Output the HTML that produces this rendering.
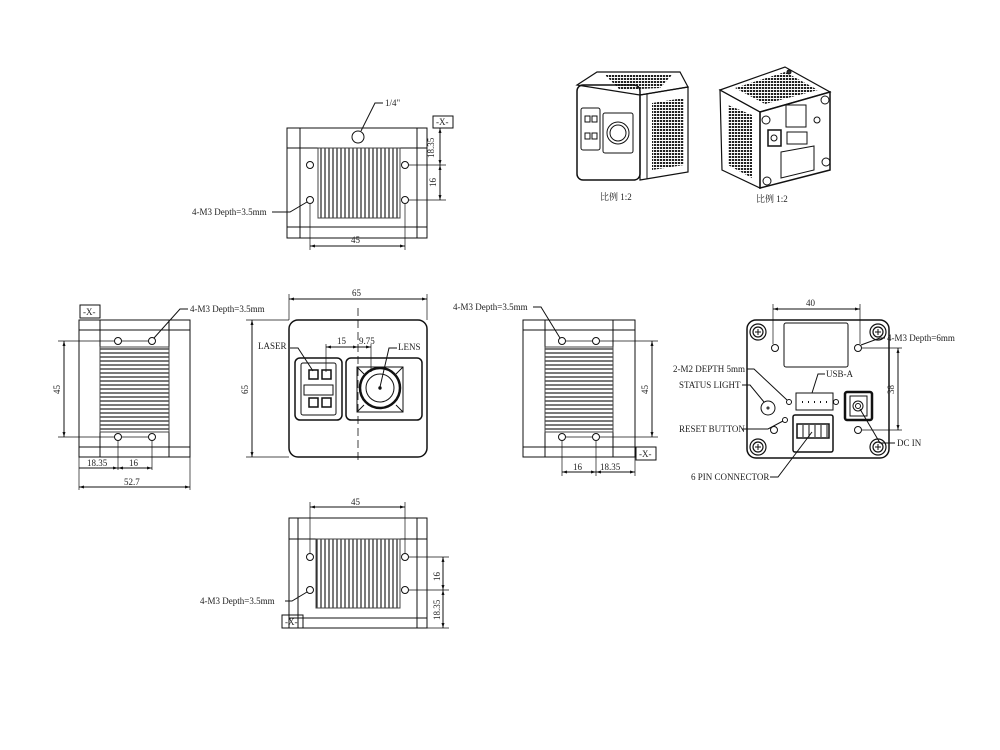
<!DOCTYPE html>
<html><head><meta charset="utf-8"><style>
html,body{margin:0;padding:0;background:#fff;}
svg{display:block;}
text{font-family:"Liberation Serif","Noto Serif CJK SC",serif;font-size:9px;fill:#222;}
</style></head><body>
<svg width="1000" height="750" viewBox="0 0 1000 750" xmlns="http://www.w3.org/2000/svg">
<defs>
<marker id="a" viewBox="0 0 10 10" refX="10" refY="5" markerWidth="7" markerHeight="5" orient="auto-start-reverse"><path d="M0,2 L10,5 L0,8z" fill="#111"/></marker>
<pattern id="vf" width="4" height="4" patternUnits="userSpaceOnUse"><line x1="1" y1="0" x2="1" y2="4" stroke="#222" stroke-width="1.2"/></pattern>
<pattern id="hf" width="4" height="4" patternUnits="userSpaceOnUse"><line x1="0" y1="1" x2="4" y2="1" stroke="#222" stroke-width="1.2"/></pattern>
<pattern id="mesh" width="3" height="3" patternUnits="userSpaceOnUse"><rect width="3" height="3" fill="#fff"/><rect width="2.2" height="2" fill="#222"/></pattern>
</defs>
<g fill="none" stroke="#111" stroke-width="1">

<!-- TOP VIEW -->
<rect x="287" y="128" width="140" height="110"/>
<line x1="300" y1="128" x2="300" y2="238"/><line x1="417" y1="128" x2="417" y2="238"/>
<line x1="287" y1="148" x2="427" y2="148"/><line x1="287" y1="227" x2="427" y2="227"/>
<rect x="318" y="148" width="82" height="70" fill="url(#vf)" stroke="#444"/>
<circle cx="358" cy="137" r="6"/>
<circle cx="310" cy="165" r="3.5"/><circle cx="310" cy="200" r="3.5"/>
<circle cx="405" cy="165" r="3.5"/><circle cx="405" cy="200" r="3.5"/>
<line x1="310" y1="204" x2="310" y2="250" stroke-width="0.7"/><line x1="405" y1="204" x2="405" y2="250" stroke-width="0.7"/>
<line x1="310" y1="246" x2="405" y2="246" marker-start="url(#a)" marker-end="url(#a)"/>
<line x1="409" y1="165" x2="446" y2="165" stroke-width="0.7"/><line x1="409" y1="200" x2="446" y2="200" stroke-width="0.7"/>
<line x1="440" y1="128" x2="440" y2="165" marker-start="url(#a)" marker-end="url(#a)"/>
<line x1="440" y1="165" x2="440" y2="200" marker-start="url(#a)" marker-end="url(#a)"/>
<rect x="433" y="116" width="20" height="12"/>
<polyline points="361,131 375,103 383,103"/>
<polyline points="307,202 290,212 272,212"/>

<!-- FRONT VIEW -->
<line x1="289" y1="320" x2="289" y2="294" stroke-width="0.7"/><line x1="427" y1="320" x2="427" y2="294" stroke-width="0.7"/>
<line x1="289" y1="299" x2="427" y2="299" marker-start="url(#a)" marker-end="url(#a)"/>
<line x1="289" y1="320" x2="246" y2="320" stroke-width="0.7"/><line x1="289" y1="457" x2="246" y2="457" stroke-width="0.7"/>
<line x1="252" y1="320" x2="252" y2="457" marker-start="url(#a)" marker-end="url(#a)"/>
<rect x="289" y="320" width="138" height="137" rx="9" stroke-width="1.5"/>
<rect x="295" y="358" width="47" height="62" rx="5" stroke-width="1.5"/>
<rect x="346" y="358" width="76" height="62" rx="5" stroke-width="1.5"/>
<rect x="301" y="363" width="35" height="52" rx="2"/>
<rect x="304" y="385" width="29" height="10"/>
<rect x="309" y="370" width="9" height="9" stroke-width="1.5"/><rect x="322" y="370" width="9" height="9" stroke-width="1.5"/>
<rect x="309" y="398" width="9" height="9" stroke-width="1.5"/><rect x="322" y="398" width="9" height="9" stroke-width="1.5"/>
<polygon points="357,367 403,367 403,412 357,412"/>
<line x1="357" y1="367" x2="364" y2="374"/><line x1="403" y1="367" x2="396" y2="374"/>
<line x1="357" y1="412" x2="364" y2="405"/><line x1="403" y1="412" x2="396" y2="405"/>
<circle cx="380" cy="388" r="20" stroke-width="2.5"/>
<circle cx="380" cy="388" r="14"/>
<circle cx="380" cy="388" r="1.2" fill="#111"/>
<line x1="358" y1="308" x2="358" y2="462" stroke-dasharray="8,4" stroke-width="0.8"/>
<line x1="326" y1="344" x2="326" y2="372" stroke-width="0.7"/><line x1="371" y1="344" x2="371" y2="372" stroke-width="0.7"/>
<line x1="326" y1="347" x2="358" y2="347" marker-start="url(#a)" marker-end="url(#a)"/>
<line x1="358" y1="347" x2="371" y2="347" marker-end="url(#a)"/>
<polyline points="313,371 298,348 290,348"/>
<polyline points="380,387 389,348 397,348"/>

<!-- LEFT VIEW -->
<rect x="79" y="320" width="111" height="137"/>
<line x1="100" y1="320" x2="100" y2="457"/><line x1="169" y1="320" x2="169" y2="457"/>
<line x1="79" y1="330" x2="190" y2="330"/><line x1="79" y1="447" x2="190" y2="447"/>
<rect x="100" y="347" width="69" height="85" fill="url(#hf)" stroke="#444"/>
<circle cx="118" cy="341" r="3.5"/><circle cx="152" cy="341" r="3.5"/>
<circle cx="118" cy="437" r="3.5"/><circle cx="152" cy="437" r="3.5"/>
<line x1="58" y1="341" x2="114" y2="341" stroke-width="0.7"/><line x1="58" y1="437" x2="114" y2="437" stroke-width="0.7"/>
<line x1="122" y1="341" x2="148" y2="341" stroke-width="0.7"/><line x1="122" y1="437" x2="148" y2="437" stroke-width="0.7"/>
<line x1="64" y1="341" x2="64" y2="437" marker-start="url(#a)" marker-end="url(#a)"/>
<rect x="80" y="305" width="20" height="13"/>
<line x1="118" y1="441" x2="118" y2="470" stroke-width="0.7"/><line x1="152" y1="441" x2="152" y2="470" stroke-width="0.7"/>
<line x1="79" y1="457" x2="79" y2="490" stroke-width="0.7"/><line x1="190" y1="457" x2="190" y2="490" stroke-width="0.7"/>
<line x1="79" y1="468" x2="118" y2="468" marker-end="url(#a)"/>
<line x1="118" y1="468" x2="152" y2="468" marker-start="url(#a)" marker-end="url(#a)"/>
<line x1="79" y1="487" x2="190" y2="487" marker-start="url(#a)" marker-end="url(#a)"/>
<polyline points="154,338 180,309 188,309"/>

<!-- RIGHT VIEW -->
<rect x="523" y="320" width="112" height="137"/>
<line x1="545" y1="320" x2="545" y2="457"/><line x1="613" y1="320" x2="613" y2="457"/>
<line x1="523" y1="330" x2="635" y2="330"/><line x1="523" y1="447" x2="635" y2="447"/>
<rect x="545" y="347" width="68" height="85" fill="url(#hf)" stroke="#444"/>
<circle cx="562" cy="341" r="3.5"/><circle cx="596" cy="341" r="3.5"/>
<circle cx="562" cy="437" r="3.5"/><circle cx="596" cy="437" r="3.5"/>
<line x1="566" y1="341" x2="592" y2="341" stroke-width="0.7"/><line x1="600" y1="341" x2="658" y2="341" stroke-width="0.7"/>
<line x1="566" y1="437" x2="592" y2="437" stroke-width="0.7"/><line x1="600" y1="437" x2="658" y2="437" stroke-width="0.7"/>
<line x1="652" y1="341" x2="652" y2="437" marker-start="url(#a)" marker-end="url(#a)"/>
<rect x="636" y="447" width="20" height="13"/>
<line x1="562" y1="441" x2="562" y2="476" stroke-width="0.7"/><line x1="596" y1="441" x2="596" y2="476" stroke-width="0.7"/><line x1="635" y1="457" x2="635" y2="476" stroke-width="0.7"/>
<line x1="562" y1="472" x2="596" y2="472" marker-start="url(#a)" marker-end="url(#a)"/>
<line x1="596" y1="472" x2="635" y2="472" marker-start="url(#a)" marker-end="url(#a)"/>
<polyline points="560,338 541,307 533,307"/>

<!-- BOTTOM VIEW -->
<rect x="289" y="518" width="138" height="110"/>
<line x1="298" y1="518" x2="298" y2="628"/><line x1="417" y1="518" x2="417" y2="628"/>
<line x1="289" y1="539" x2="427" y2="539"/><line x1="289" y1="618" x2="427" y2="618"/>
<rect x="316" y="539" width="84" height="69" fill="url(#vf)" stroke="#444"/>
<circle cx="310" cy="557" r="3.5"/><circle cx="405" cy="557" r="3.5"/>
<circle cx="310" cy="590" r="3.5"/><circle cx="405" cy="590" r="3.5"/>
<line x1="310" y1="553" x2="310" y2="502" stroke-width="0.7"/><line x1="405" y1="553" x2="405" y2="502" stroke-width="0.7"/>
<line x1="310" y1="507" x2="405" y2="507" marker-start="url(#a)" marker-end="url(#a)"/>
<line x1="409" y1="557" x2="449" y2="557" stroke-width="0.7"/><line x1="409" y1="590" x2="449" y2="590" stroke-width="0.7"/><line x1="427" y1="628" x2="449" y2="628" stroke-width="0.7"/>
<line x1="443" y1="557" x2="443" y2="590" marker-start="url(#a)" marker-end="url(#a)"/>
<line x1="443" y1="590" x2="443" y2="628" marker-start="url(#a)" marker-end="url(#a)"/>
<rect x="282" y="615" width="21" height="13"/>
<polyline points="307,592 292,601 285,601"/>

<!-- BACK VIEW -->
<rect x="747" y="320" width="142" height="138" rx="9" stroke-width="1.5"/>
<g stroke-width="1.2">
<circle cx="758" cy="332" r="8"/><circle cx="758" cy="332" r="5"/>
<circle cx="878" cy="332" r="8"/><circle cx="878" cy="332" r="5"/>
<circle cx="758" cy="447" r="8"/><circle cx="758" cy="447" r="5"/>
<circle cx="878" cy="447" r="8"/><circle cx="878" cy="447" r="5"/>
</g>
<path d="M755,332h6M758,329v6M875,332h6M878,329v6M755,447h6M758,444v6M875,447h6M878,444v6"/>
<rect x="784" y="323" width="64" height="44" rx="2"/>
<circle cx="775" cy="348" r="3.5"/><circle cx="858" cy="348" r="3.5"/>
<rect x="796" y="393" width="37" height="17"/>
<path d="M802,402h1M808,402h1M814,402h1M820,402h1M826,402h1" stroke-width="2"/>
<circle cx="768" cy="408" r="7"/><circle cx="768" cy="408" r="1"/>
<rect x="845" y="392" width="27" height="28" rx="2" stroke-width="2.5"/>
<rect x="850" y="396" width="17" height="20"/>
<circle cx="858" cy="406" r="5"/><circle cx="858" cy="406" r="2.5"/>
<rect x="793" y="415" width="40" height="37" rx="2" stroke-width="1.5"/>
<rect x="797" y="424" width="32" height="14" stroke-width="1.5"/>
<path d="M803,425v12M809,425v12M815,425v12M821,425v12M827,425v12"/>
<circle cx="789" cy="402" r="2.5"/><circle cx="836" cy="402" r="2.5"/>
<circle cx="785" cy="420" r="2.5"/><circle cx="774" cy="430" r="3.5"/><circle cx="858" cy="430" r="3.5"/>
<line x1="773" y1="344" x2="773" y2="304" stroke-width="0.7"/><line x1="860" y1="344" x2="860" y2="304" stroke-width="0.7"/>
<line x1="773" y1="309" x2="860" y2="309" marker-start="url(#a)" marker-end="url(#a)"/>
<line x1="862" y1="348" x2="902" y2="348" stroke-width="0.7"/><line x1="862" y1="430" x2="902" y2="430" stroke-width="0.7"/>
<line x1="898" y1="348" x2="898" y2="430" marker-start="url(#a)" marker-end="url(#a)"/>
<polyline points="861,345 880,338 885,338"/>
<polyline points="787,400 754,369 747,369"/>
<polyline points="812,393 818,374 825,374"/>
<polyline points="764,402 750,385 742,385"/>
<polyline points="783,421 768,429 742,429"/>
<polyline points="812,432 778,477 770,477"/>
<polyline points="860,409 880,443 895,443"/>

<!-- PHOTO LEFT -->
<polygon points="577,85 597,72 680,72 688,87 640,95" stroke-width="1.2"/>
<polygon points="605,75 672,75 660,88 620,90" fill="url(#mesh)" stroke="none"/>
<rect x="577" y="85" width="63" height="95" rx="6" stroke-width="1.5"/>
<polygon points="640,95 688,87 688,172 640,180" stroke-width="1.2"/>
<line x1="647" y1="94" x2="647" y2="179"/>
<polygon points="652,103 684,98 684,165 652,170" fill="url(#mesh)" stroke="none"/>
<rect x="581" y="108" width="19" height="42" rx="2"/>
<rect x="585" y="116" width="5" height="6"/><rect x="592" y="116" width="5" height="6"/>
<rect x="585" y="133" width="5" height="6"/><rect x="592" y="133" width="5" height="6"/>
<rect x="603" y="113" width="30" height="40" rx="2"/>
<circle cx="618" cy="133" r="11"/><circle cx="618" cy="133" r="8"/>
<!-- PHOTO RIGHT -->
<polygon points="720,90 785,67 830,92 760,112" stroke-width="1.2"/>
<polygon points="735,88 785,72 818,90 765,104" fill="url(#mesh)" stroke="none"/>
<polygon points="720,90 760,112 760,188 722,170" stroke-width="1.2"/>
<polygon points="728,105 752,115 752,178 728,165" fill="url(#mesh)" stroke="none"/>
<polygon points="760,112 830,92 830,170 760,188" stroke-width="1.5"/>
<rect x="786" y="105" width="20" height="22"/>
<rect x="787" y="132" width="20" height="12"/>
<rect x="768" y="130" width="13" height="16" stroke-width="1.5"/>
<circle cx="774" cy="138" r="3"/>
<polygon points="781,152 814,146 814,170 781,178"/>
<circle cx="766" cy="120" r="4"/><circle cx="825" cy="100" r="4"/><circle cx="826" cy="162" r="4"/><circle cx="767" cy="181" r="4"/>
<circle cx="817" cy="120" r="3"/><circle cx="789" cy="72" r="2" fill="#333"/>
</g>

<!-- TEXT -->
<text x="385" y="106">1/4"</text>
<text x="436" y="125">-X-</text>
<text x="434" y="158" transform="rotate(-90 434 158)">18.35</text>
<text x="436" y="187" transform="rotate(-90 436 187)">16</text>
<text x="192" y="215">4-M3 Depth=3.5mm</text>
<text x="351" y="243">45</text>
<text x="352" y="296">65</text>
<text x="258" y="349">LASER</text>
<text x="337" y="344">15</text>
<text x="359" y="344">9.75</text>
<text x="398" y="350">LENS</text>
<text x="248" y="394" transform="rotate(-90 248 394)">65</text>
<text x="83" y="315">-X-</text>
<text x="190" y="312">4-M3 Depth=3.5mm</text>
<text x="60" y="394" transform="rotate(-90 60 394)">45</text>
<text x="87" y="466">18.35</text>
<text x="129" y="466">16</text>
<text x="124" y="485">52.7</text>
<text x="453" y="310">4-M3 Depth=3.5mm</text>
<text x="648" y="394" transform="rotate(-90 648 394)">45</text>
<text x="639" y="457">-X-</text>
<text x="573" y="470">16</text>
<text x="600" y="470">18.35</text>
<text x="351" y="505">45</text>
<text x="440" y="581" transform="rotate(-90 440 581)">16</text>
<text x="440" y="620" transform="rotate(-90 440 620)">18.35</text>
<text x="200" y="604">4-M3 Depth=3.5mm</text>
<text x="285" y="625">-X-</text>
<text x="806" y="306">40</text>
<text x="887" y="341">4-M3 Depth=6mm</text>
<text x="894" y="394" transform="rotate(-90 894 394)">38</text>
<text x="673" y="372">2-M2 DEPTH 5mm</text>
<text x="826" y="377">USB-A</text>
<text x="679" y="388">STATUS LIGHT</text>
<text x="679" y="432">RESET BUTTON</text>
<text x="897" y="446">DC IN</text>
<text x="691" y="480">6 PIN CONNECTOR</text>
<text x="600" y="200">比例  1:2</text>
<text x="756" y="202">比例  1:2</text>
</svg>
</body></html>
